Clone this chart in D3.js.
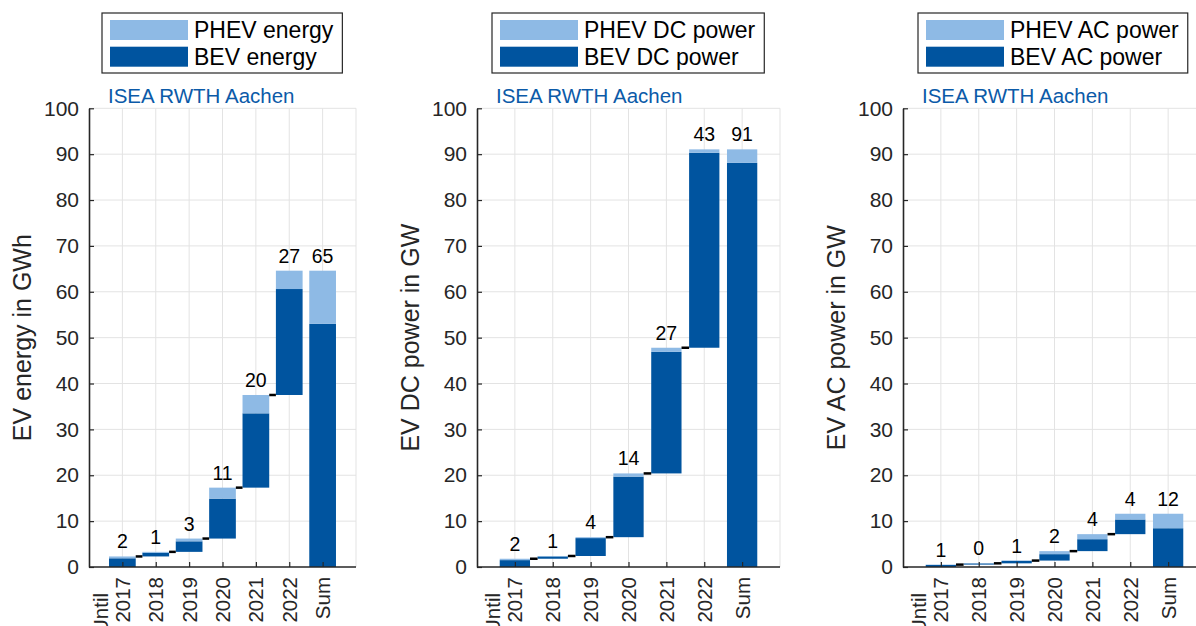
<!DOCTYPE html>
<html>
<head>
<meta charset="utf-8">
<script src="https://cdn.jsdelivr.net/npm/d3@7"></script>
<style>
  html, body { margin: 0; padding: 0; background: #fff; }
  svg { display: block; font-family: "Liberation Sans", Arial, Helvetica, sans-serif; }
</style>
</head>
<body>
<svg id="chart" width="1196" height="626"></svg>
<script>
// ---------- data ----------
const categories = ["Until\n2017", "2018", "2019", "2020", "2021", "2022", "Sum"];
const yTicks = [0, 10, 20, 30, 40, 50, 60, 70, 80, 90, 100];

const energyBEV  = [1.9, 0.8, 2.3, 8.7, 16.2, 23.1];
const energyPHEV = [0.4, 0.2, 0.6, 2.4, 4.0, 4.0];

const dcBEV  = [1.5, 0.5, 3.9, 13.2, 26.5, 42.5];
const dcPHEV = [0.3, 0.1, 0.2, 0.7, 0.9, 0.75];

const acBEV  = [0.45, 0.25, 0.55, 1.4, 2.6, 3.2];
const acPHEV = [0.07, 0.03, 0.05, 0.66, 1.1, 1.25];

const energyLegend = ["PHEV energy", "BEV energy"];
const dcLegend     = ["PHEV DC power", "BEV DC power"];
const acLegend     = ["PHEV AC power", "BEV AC power"];

const yTitles = ["EV energy in GWh", "EV DC power in GW", "EV AC power in GW"];
const watermark = "ISEA RWTH Aachen";

// ---------- style ----------
const DARK = "#00549F";
const LIGHT = "#8EBAE5";
const GRID = "#e3e3e3";
const AXIS = "#262626";

const svg = d3.select("#chart");

const panels = [
  { bev: energyBEV, phev: energyPHEV, legend: energyLegend, title: yTitles[0], x0: 89,  x1: 356,  legX: 102 },
  { bev: dcBEV,     phev: dcPHEV,     legend: dcLegend,     title: yTitles[1], x0: 477, x1: 780,  legX: 492 },
  { bev: acBEV,     phev: acPHEV,     legend: acLegend,     title: yTitles[2], x0: 903, x1: 1206, legX: 918 }
];

const yTop = 108.3, yBottom = 567;

panels.forEach(p => {
  const g = svg.append("g");
  const x = d3.scalePoint().domain(categories).range([p.x0, p.x1]).padding(1);
  const y = d3.scaleLinear().domain([0, 100]).range([yBottom, yTop]);
  const bw = x.step() * 0.8;

  // build waterfall rows
  const rows = [];
  let cum = 0;
  p.bev.forEach((b, i) => {
    const ph = p.phev[i];
    rows.push({ cat: categories[i], base: cum, bevTop: cum + b, top: cum + b + ph, inc: b + ph });
    cum += b + ph;
  });
  const bevSum = d3.sum(p.bev), phevSum = d3.sum(p.phev);
  rows.push({ cat: categories[6], base: 0, bevTop: bevSum, top: bevSum + phevSum, inc: bevSum + phevSum });

  // grid
  g.append("g").selectAll("line").data(yTicks.filter(t => t > 0)).join("line")
    .attr("x1", p.x0).attr("x2", p.x1)
    .attr("y1", d => y(d)).attr("y2", d => y(d))
    .attr("stroke", GRID).attr("stroke-width", 1);
  g.append("g").selectAll("line").data(categories).join("line")
    .attr("x1", d => x(d)).attr("x2", d => x(d))
    .attr("y1", yTop).attr("y2", yBottom)
    .attr("stroke", GRID).attr("stroke-width", 1);
  g.append("line").attr("x1", p.x1).attr("x2", p.x1).attr("y1", yTop).attr("y2", yBottom)
    .attr("stroke", GRID).attr("stroke-width", 1);

  // bars
  g.append("g").selectAll("rect.bev").data(rows).join("rect")
    .attr("x", d => x(d.cat) - bw / 2).attr("width", bw)
    .attr("y", d => y(d.bevTop)).attr("height", d => y(d.base) - y(d.bevTop))
    .attr("fill", DARK);
  g.append("g").selectAll("rect.phev").data(rows).join("rect")
    .attr("x", d => x(d.cat) - bw / 2).attr("width", bw)
    .attr("y", d => y(d.top)).attr("height", d => Math.max(0, y(d.bevTop) - y(d.top)))
    .attr("fill", LIGHT);

  // connectors
  g.append("g").selectAll("line").data(rows.slice(0, 5)).join("line")
    .attr("x1", d => x(d.cat) + bw / 2)
    .attr("x2", (d, i) => x(categories[i + 1]) - bw / 2)
    .attr("y1", d => y(d.top)).attr("y2", d => y(d.top))
    .attr("stroke", "#000").attr("stroke-width", 2.5);

  // value labels
  g.append("g").selectAll("text").data(rows).join("text")
    .attr("x", d => x(d.cat)).attr("y", d => y(d.top) - 8)
    .attr("text-anchor", "middle").attr("font-size", 19.5).attr("fill", "#000")
    .text(d => Math.round(d.inc));

  // y axis
  const ya = g.append("g").attr("transform", `translate(${p.x0},0)`)
    .call(d3.axisLeft(y).tickValues(yTicks).tickSizeInner(-5).tickSizeOuter(0).tickPadding(10));
  ya.select(".domain").attr("stroke", AXIS).attr("stroke-width", 1.6);
  ya.selectAll(".tick line").attr("stroke", AXIS).attr("stroke-width", 1.2);
  ya.selectAll(".tick text").attr("font-size", 21).attr("fill", AXIS)
    .attr("font-family", "Liberation Sans, Arial, sans-serif");

  // x axis
  const xa = g.append("g").attr("transform", `translate(0,${yBottom})`)
    .call(d3.axisBottom(x).tickSizeInner(-5).tickSizeOuter(0).tickFormat(""));
  xa.select(".domain").attr("stroke", AXIS).attr("stroke-width", 1.6)
    .attr("d", `M${p.x0},0H${p.x1}`);
  xa.selectAll(".tick line").attr("stroke", AXIS).attr("stroke-width", 1.2);

  // x tick labels (rotated)
  categories.forEach(c => {
    const lines = c.split("\n");
    const last = lines.length - 1;
    lines.forEach((ln, k) => {
      const off = (k - last) * 22;
      const yOff = k < last ? 16 : 0;
      g.append("text")
        .attr("transform", `translate(${x(c) + off},${yBottom + 10 + yOff}) rotate(-90)`)
        .attr("text-anchor", "end").attr("dy", "0.36em")
        .attr("font-size", 20.5).attr("fill", AXIS)
        .text(ln);
    });
  });

  // y title
  g.append("text")
    .attr("transform", `translate(${p.x0 - 67},${(yTop + yBottom) / 2}) rotate(-90)`)
    .attr("text-anchor", "middle").attr("dy", "0.36em")
    .attr("font-size", 25).attr("fill", AXIS)
    .text(p.title);

  // watermark
  g.append("text").attr("x", p.x0 + 19).attr("y", 103)
    .attr("font-size", 20.5).attr("fill", "#0b5aa8")
    .text(watermark);

  // legend
  const lg = g.append("g").attr("transform", `translate(${p.legX},13)`);
  const box = lg.append("rect").attr("fill", "#fff").attr("stroke", AXIS).attr("stroke-width", 1.2)
    .attr("height", 60);
  const colors = [LIGHT, DARK];
  let maxW = 0;
  p.legend.forEach((t, i) => {
    lg.append("rect").attr("x", 8).attr("y", 7 + i * 26.7).attr("width", 78).attr("height", 20)
      .attr("fill", colors[i]);
    const tx = lg.append("text").attr("x", 92).attr("y", 25 + i * 27)
      .attr("font-size", 23).attr("fill", "#000").text(t);
    maxW = Math.max(maxW, tx.node().getComputedTextLength());
  });
  box.attr("width", 92 + maxW + 9);
});
</script>
</body>
</html>
